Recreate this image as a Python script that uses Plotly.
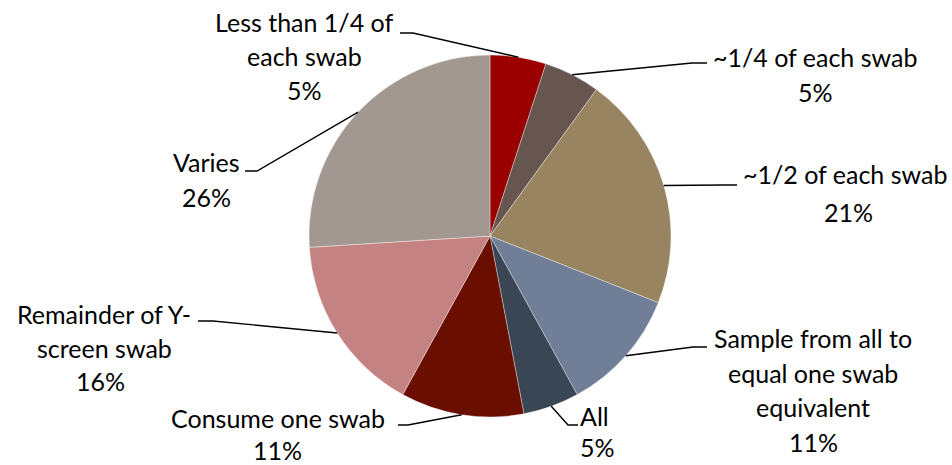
import math
import plotly.graph_objects as go

# Survey answers: how much of each swab is used for the sample
categories = [
    "Less than 1/4 of each swab",
    "~1/4 of each swab",
    "~1/2 of each swab",
    "Sample from all to equal one swab equivalent",
    "All",
    "Consume one swab",
    "Remainder of Y-screen swab",
    "Varies",
]
percent_values = [5, 5, 21, 11, 5, 11, 16, 26]
slice_colors = ["#9A0000", "#66564F", "#998461", "#717E98",
                "#3B4655", "#6A0E00", "#C48282", "#A39891"]

# Label text lines (percentage line is appended from the values)
label_lines = [
    ["Less than 1/4 of", "each swab"],
    ["~1/4 of each swab"],
    ["~1/2 of each swab"],
    ["Sample from all to", "equal one swab", "equivalent"],
    ["All"],
    ["Consume one swab"],
    ["Remainder of Y-", "screen swab"],
    ["Varies"],
]

W, H = 952, 465
CX, CY, R = 490, 236, 181

# Label layout (pixels): text centre x, first-line centre y, line pitch,
# leader elbow point and leader end point
label_x = [304, 815, 845, 813, 594, 278, 104, 206]
label_y = [22, 57, 174, 338, 416, 418, 314, 162]
line_pitch = [34, 35, 38, 34.5, 31, 32, 33.5, 35]
pct_x = [304, 815, 848, 813, 597, 277, 100, 206]
elbow = [(413, 33), (692, 63), (722, 185), (693, 347),
         (568, 425), (408, 425), (213, 321), (257, 171)]
leader_end = [(400, 33), (707, 63), (737, 185), (707, 347),
              (578, 425), (398, 425), (198, 321), (245, 171)]

fig = go.Figure()

fig.add_trace(go.Pie(
    labels=categories,
    values=percent_values,
    sort=False,
    direction="clockwise",
    rotation=0,
    textinfo="none",
    hoverinfo="label+percent",
    marker=dict(colors=slice_colors, line=dict(color="rgba(255,255,255,0.6)", width=0.6)),
    domain=dict(x=[(CX - R) / W, (CX + R) / W],
                y=[(H - CY - R) / H, (H - CY + R) / H]),
    showlegend=False,
))

# Pixel-space overlay axes for leader lines
fig.update_xaxes(range=[0, W], visible=False, fixedrange=True)
fig.update_yaxes(range=[H, 0], visible=False, fixedrange=True)

total = sum(percent_values)
cum = 0.0
font = dict(family="Lato, 'Open Sans', sans-serif", size=25, color="#000000")
for i, v in enumerate(percent_values):
    mid = (cum + v / 2) / total * 2 * math.pi
    cum += v
    sx = CX + R * math.sin(mid)
    sy = CY - R * math.cos(mid)
    ex, ey = elbow[i]
    tx, ty = leader_end[i]
    fig.add_shape(type="path",
                  path=f"M {sx:.1f} {sy:.1f} L {ex} {ey} L {tx} {ty}",
                  xref="x", yref="y",
                  line=dict(color="#000000", width=1.4))
    lines = label_lines[i] + [f"{v}%"]
    for j, txt in enumerate(lines):
        is_pct = j == len(lines) - 1
        fig.add_annotation(
            x=(pct_x[i] if is_pct else label_x[i]),
            y=label_y[i] + j * line_pitch[i],
            xref="x", yref="y",
            text=txt, showarrow=False,
            xanchor="center", yanchor="middle",
            borderpad=0,
            font=font,
        )

fig.update_layout(
    width=W, height=H,
    margin=dict(l=0, r=0, t=0, b=0),
    paper_bgcolor="white",
    plot_bgcolor="rgba(0,0,0,0)",
)

fig.write_html("out.html")
